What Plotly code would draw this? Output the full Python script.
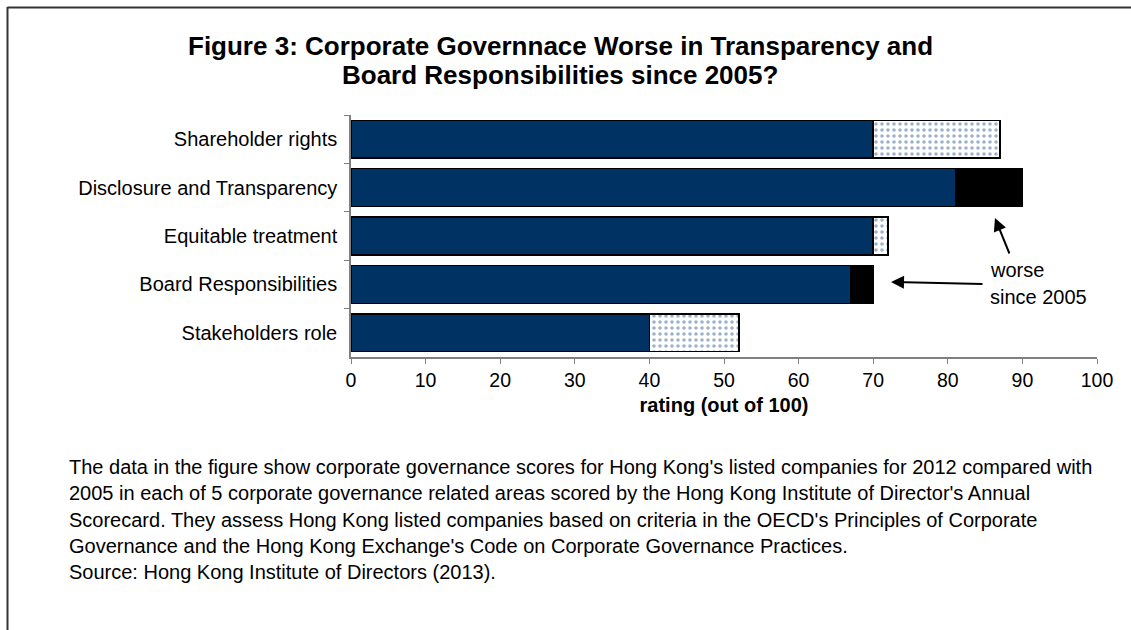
import plotly.graph_objects as go

# Data
areas = ['Shareholder rights', 'Disclosure and Transparency', 'Equitable treatment',
         'Board Responsibilities', 'Stakeholders role']
score_2005 = [70, 90, 70, 70, 40]
score_2012 = [87, 81, 72, 67, 52]

x_tickvals = [0, 10, 20, 30, 40, 50, 60, 70, 80, 90, 100]

title_lines = ['Figure 3: Corporate Governnace Worse in Transparency and',
               'Board Responsibilities since 2005?']

footnote_lines = [
    "The data in the figure show corporate governance scores for Hong Kong's listed companies for 2012 compared with",
    "2005 in each of 5 corporate governance related areas scored by the Hong Kong Institute of Director's Annual",
    "Scorecard. They assess Hong Kong listed companies based on criteria in the OECD's Principles of Corporate",
    "Governance and the Hong Kong Exchange's Code on Corporate Governance Practices.",
    "Source: Hong Kong Institute of Directors (2013).",
]

# split each bar into common part + change
base = [min(a, b) for a, b in zip(score_2005, score_2012)]
better = [b - a if b > a else 0 for a, b in zip(score_2005, score_2012)]
worse = [a - b if a > b else 0 for a, b in zip(score_2005, score_2012)]

W, H = 1131, 630
L, R, T, B = 351, 34, 115, 273
PW, PH = W - L - R, H - T - B

def px_x(px):
    return (px - L) / PW

def px_y(py):
    return (H - B - py) / PH

FONT = 'Arial, Liberation Sans, sans-serif'
NAVY = '#003263'

fig = go.Figure()

fig.add_trace(go.Bar(
    y=areas, x=base, orientation='h', name='2012',
    marker=dict(color=NAVY, line=dict(color='black', width=1.5)),
))
fig.add_trace(go.Bar(
    y=areas, x=better, orientation='h', name='better since 2005',
    marker=dict(color='white', line=dict(color='black', width=1.5),
                pattern=dict(shape='.', fgcolor='#3d6499', bgcolor='white',
                             size=6, solidity=0.28)),
))
fig.add_trace(go.Bar(
    y=areas, x=worse, orientation='h', name='worse since 2005',
    marker=dict(color='black', line=dict(color='black', width=1.5)),
))

annotations = []
# title, two lines
for i, line in enumerate(title_lines):
    annotations.append(dict(text='<b>' + line + '</b>', x=px_x(560), y=px_y(46 + i * 29),
                            xref='paper', yref='paper', xanchor='center', yanchor='middle',
                            showarrow=False, font=dict(size=26, color='black')))
# "worse since 2005" label
annotations.append(dict(text='worse', x=px_x(988), y=px_y(270), xref='paper', yref='paper',
                        xanchor='left', yanchor='middle', showarrow=False,
                        font=dict(size=20, color='black')))
annotations.append(dict(text='since 2005', x=px_x(988), y=px_y(297), xref='paper', yref='paper',
                        xanchor='left', yanchor='middle', showarrow=False,
                        font=dict(size=20, color='black')))
# arrows
annotations.append(dict(text='', x=px_x(995), y=px_y(218), xref='paper', yref='paper',
                        ax=15, ay=37, showarrow=True, arrowhead=2, arrowsize=1.3,
                        arrowwidth=2, arrowcolor='black'))
annotations.append(dict(text='', x=px_x(891), y=px_y(282), xref='paper', yref='paper',
                        ax=93, ay=2, showarrow=True, arrowhead=2, arrowsize=1.3,
                        arrowwidth=2, arrowcolor='black'))
# footnote
for i, line in enumerate(footnote_lines):
    annotations.append(dict(text=line, x=px_x(67), y=px_y(467 + i * 26.3), xref='paper', yref='paper',
                            xanchor='left', yanchor='middle', showarrow=False,
                            font=dict(size=20, color='black')))

# outer frame (top and left edges)
shapes = [
    dict(type='line', xref='paper', yref='paper', x0=px_x(7.5), x1=px_x(W), y0=px_y(7.5), y1=px_y(7.5),
         line=dict(color='#333333', width=2)),
    dict(type='line', xref='paper', yref='paper', x0=px_x(7.5), x1=px_x(7.5), y0=px_y(7), y1=px_y(H),
         line=dict(color='#333333', width=2)),
]

fig.update_layout(
    width=W, height=H,
    margin=dict(l=L, r=R, t=T, b=B, autoexpand=False),
    barmode='stack', bargap=0.22, showlegend=False,
    plot_bgcolor='white', paper_bgcolor='white',
    font=dict(family=FONT, size=20, color='black'),
    xaxis=dict(range=[0, 100], tickvals=x_tickvals, ticks='outside', ticklen=5,
               tickcolor='#808080', showline=True, linecolor='#808080', linewidth=1.5,
               showgrid=False, zeroline=False, tickfont=dict(size=19.5),
               title=dict(text='<b>rating (out of 100)</b>', font=dict(size=20), standoff=8)),
    yaxis=dict(categoryorder='array', categoryarray=areas, autorange='reversed',
               ticks='outside', ticklen=5, tickson='boundaries', tickcolor='#808080',
               showline=True, linecolor='#808080', linewidth=1.5, showgrid=False,
               tickfont=dict(size=20), ticklabelstandoff=8),
    annotations=annotations,
    shapes=shapes,
)

# drop the default page margin so the figure sits at the window's corner
fig.write_html("out.html", config={'displayModeBar': False},
               post_script="document.body.style.margin='0';")
